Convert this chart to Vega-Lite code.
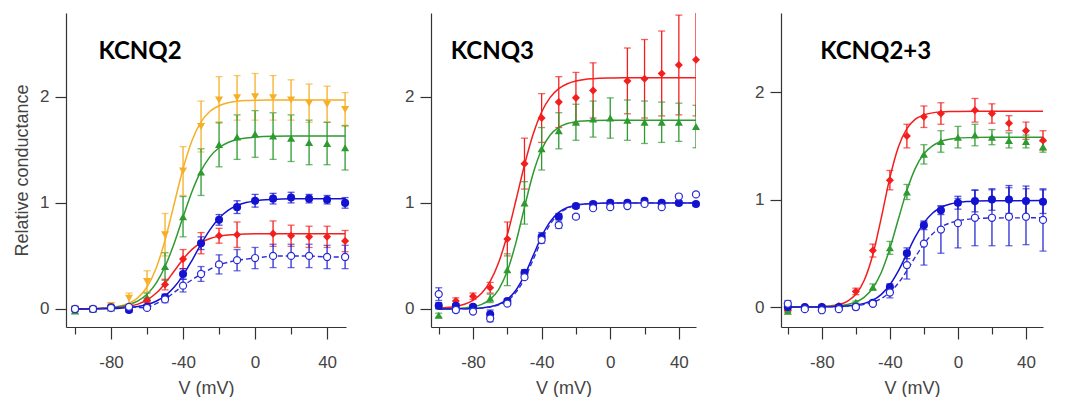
{
  "$schema": "https://vega.github.io/schema/vega-lite/v6.json",
  "padding": {"left": 13, "top": 13, "right": 5, "bottom": 0},
  "background": "white",
  "config": {
    "view": {"stroke": null},
    "axis": {"grid": false, "domainColor": "#333333", "tickColor": "#333333", "labelColor": "#444444", "titleColor": "#444444", "labelFont": "Liberation Sans", "titleFont": "Liberation Sans", "labelFontSize": 17, "titleFontSize": 18, "titleFontWeight": "normal", "domainWidth": 1.2, "tickWidth": 1.2},
    "concat": {"spacing": 85}
  },
  "bounds": "flush",
  "datasets": {
    "pts1": [
      {"s":"orange","v":-100,"g":0,"e":0.02},{"s":"orange","v":-90,"g":0,"e":0.02},{"s":"orange","v":-80,"g":0.03,"e":0.03},{"s":"orange","v":-70,"g":0.1,"e":0.05},{"s":"orange","v":-60,"g":0.26,"e":0.1},{"s":"orange","v":-50,"g":0.7,"e":0.2},{"s":"orange","v":-40,"g":1.3,"e":0.23},{"s":"orange","v":-30,"g":1.72,"e":0.24},{"s":"orange","v":-20,"g":1.97,"e":0.22},{"s":"orange","v":-10,"g":1.99,"e":0.21},{"s":"orange","v":0,"g":2.0,"e":0.22},{"s":"orange","v":10,"g":1.99,"e":0.21},{"s":"orange","v":20,"g":1.97,"e":0.19},{"s":"orange","v":30,"g":1.94,"e":0.18},{"s":"orange","v":40,"g":1.93,"e":0.17},{"s":"orange","v":50,"g":1.88,"e":0.16},
      {"s":"green","v":-100,"g":-0.02,"e":0.02},{"s":"green","v":-90,"g":0,"e":0.02},{"s":"green","v":-80,"g":0.01,"e":0.02},{"s":"green","v":-70,"g":0.02,"e":0.02},{"s":"green","v":-60,"g":0.11,"e":0.04},{"s":"green","v":-50,"g":0.4,"e":0.13},{"s":"green","v":-40,"g":0.87,"e":0.19},{"s":"green","v":-30,"g":1.29,"e":0.22},{"s":"green","v":-20,"g":1.55,"e":0.21},{"s":"green","v":-10,"g":1.62,"e":0.21},{"s":"green","v":0,"g":1.65,"e":0.22},{"s":"green","v":10,"g":1.63,"e":0.22},{"s":"green","v":20,"g":1.61,"e":0.22},{"s":"green","v":30,"g":1.57,"e":0.21},{"s":"green","v":40,"g":1.56,"e":0.2},{"s":"green","v":50,"g":1.52,"e":0.21},
      {"s":"red","v":-100,"g":0,"e":0.01},{"s":"red","v":-90,"g":0,"e":0.01},{"s":"red","v":-80,"g":0.005,"e":0.01},{"s":"red","v":-70,"g":0.005,"e":0.01},{"s":"red","v":-60,"g":0.08,"e":0.02},{"s":"red","v":-50,"g":0.23,"e":0.05},{"s":"red","v":-40,"g":0.47,"e":0.09},{"s":"red","v":-30,"g":0.62,"e":0.1},{"s":"red","v":-20,"g":0.69,"e":0.07},{"s":"red","v":-10,"g":0.7,"e":0.12},{"s":"red","v":10,"g":0.71,"e":0.12},{"s":"red","v":20,"g":0.69,"e":0.1},{"s":"red","v":30,"g":0.68,"e":0.1},{"s":"red","v":40,"g":0.68,"e":0.1},{"s":"red","v":50,"g":0.64,"e":0.1},
      {"s":"open","v":-100,"g":0,"e":0.01},{"s":"open","v":-90,"g":0,"e":0.01},{"s":"open","v":-80,"g":0.01,"e":0.01},{"s":"open","v":-70,"g":0.02,"e":0.01},{"s":"open","v":-60,"g":0.01,"e":0.01},{"s":"open","v":-50,"g":0.09,"e":0.03},{"s":"open","v":-40,"g":0.22,"e":0.06},{"s":"open","v":-30,"g":0.33,"e":0.07},{"s":"open","v":-20,"g":0.42,"e":0.09},{"s":"open","v":-10,"g":0.46,"e":0.1},{"s":"open","v":0,"g":0.48,"e":0.1},{"s":"open","v":10,"g":0.5,"e":0.11},{"s":"open","v":20,"g":0.5,"e":0.11},{"s":"open","v":30,"g":0.5,"e":0.11},{"s":"open","v":40,"g":0.49,"e":0.11},{"s":"open","v":50,"g":0.49,"e":0.11},
      {"s":"blue","v":-100,"g":0,"e":0.02},{"s":"blue","v":-90,"g":0,"e":0.02},{"s":"blue","v":-80,"g":0.015,"e":0.02},{"s":"blue","v":-70,"g":-0.01,"e":0.02},{"s":"blue","v":-60,"g":0.02,"e":0.02},{"s":"blue","v":-50,"g":0.11,"e":0.03},{"s":"blue","v":-40,"g":0.33,"e":0.05},{"s":"blue","v":-30,"g":0.62,"e":0.06},{"s":"blue","v":-20,"g":0.84,"e":0.05},{"s":"blue","v":-10,"g":0.96,"e":0.06},{"s":"blue","v":0,"g":1.02,"e":0.06},{"s":"blue","v":10,"g":1.04,"e":0.05},{"s":"blue","v":20,"g":1.05,"e":0.05},{"s":"blue","v":30,"g":1.04,"e":0.04},{"s":"blue","v":40,"g":1.03,"e":0.04},{"s":"blue","v":50,"g":1.0,"e":0.05}
    ],
    "fit1": [
      {"s":"orange","v":-100,"g":0},{"s":"orange","v":-90,"g":0.003},{"s":"orange","v":-85,"g":0.0065},{"s":"orange","v":-80,"g":0.013},{"s":"orange","v":-75,"g":0.027},{"s":"orange","v":-70,"g":0.054},{"s":"orange","v":-65,"g":0.107},{"s":"orange","v":-60,"g":0.207},{"s":"orange","v":-55,"g":0.381},{"s":"orange","v":-50,"g":0.648},{"s":"orange","v":-45,"g":0.985},{"s":"orange","v":-40,"g":1.322},{"s":"orange","v":-35,"g":1.589},{"s":"orange","v":-30,"g":1.763},{"s":"orange","v":-25,"g":1.864},{"s":"orange","v":-20,"g":1.916},{"s":"orange","v":-15,"g":1.943},{"s":"orange","v":-10,"g":1.957},{"s":"orange","v":-5,"g":1.964},{"s":"orange","v":0,"g":1.967},{"s":"orange","v":10,"g":1.969},{"s":"orange","v":20,"g":1.97},{"s":"orange","v":50,"g":1.97},
      {"s":"green","v":-100,"g":0.001},{"s":"green","v":-90,"g":0.0036},{"s":"green","v":-85,"g":0.0066},{"s":"green","v":-80,"g":0.012},{"s":"green","v":-75,"g":0.023},{"s":"green","v":-70,"g":0.042},{"s":"green","v":-65,"g":0.077},{"s":"green","v":-60,"g":0.139},{"s":"green","v":-55,"g":0.241},{"s":"green","v":-50,"g":0.4},{"s":"green","v":-45,"g":0.615},{"s":"green","v":-40,"g":0.866},{"s":"green","v":-35,"g":1.107},{"s":"green","v":-30,"g":1.301},{"s":"green","v":-25,"g":1.436},{"s":"green","v":-20,"g":1.52},{"s":"green","v":-15,"g":1.569},{"s":"green","v":-10,"g":1.597},{"s":"green","v":-5,"g":1.612},{"s":"green","v":0,"g":1.62},{"s":"green","v":10,"g":1.628},{"s":"green","v":20,"g":1.63},{"s":"green","v":50,"g":1.63},
      {"s":"red","v":-100,"g":0},{"s":"red","v":-90,"g":0.002},{"s":"red","v":-85,"g":0.004},{"s":"red","v":-80,"g":0.007},{"s":"red","v":-75,"g":0.013},{"s":"red","v":-70,"g":0.025},{"s":"red","v":-65,"g":0.046},{"s":"red","v":-60,"g":0.085},{"s":"red","v":-55,"g":0.148},{"s":"red","v":-50,"g":0.241},{"s":"red","v":-45,"g":0.355},{"s":"red","v":-40,"g":0.469},{"s":"red","v":-35,"g":0.562},{"s":"red","v":-30,"g":0.626},{"s":"red","v":-25,"g":0.664},{"s":"red","v":-20,"g":0.685},{"s":"red","v":-15,"g":0.697},{"s":"red","v":-10,"g":0.703},{"s":"red","v":-5,"g":0.706},{"s":"red","v":0,"g":0.708},{"s":"red","v":10,"g":0.709},{"s":"red","v":20,"g":0.71},{"s":"red","v":50,"g":0.71},
      {"s":"blue","v":-100,"g":0},{"s":"blue","v":-90,"g":0.001},{"s":"blue","v":-85,"g":0.002},{"s":"blue","v":-80,"g":0.004},{"s":"blue","v":-75,"g":0.007},{"s":"blue","v":-70,"g":0.013},{"s":"blue","v":-65,"g":0.024},{"s":"blue","v":-60,"g":0.042},{"s":"blue","v":-55,"g":0.073},{"s":"blue","v":-50,"g":0.124},{"s":"blue","v":-45,"g":0.204},{"s":"blue","v":-40,"g":0.317},{"s":"blue","v":-35,"g":0.459},{"s":"blue","v":-30,"g":0.611},{"s":"blue","v":-25,"g":0.748},{"s":"blue","v":-20,"g":0.855},{"s":"blue","v":-15,"g":0.929},{"s":"blue","v":-10,"g":0.975},{"s":"blue","v":-5,"g":1.003},{"s":"blue","v":0,"g":1.019},{"s":"blue","v":10,"g":1.033},{"s":"blue","v":20,"g":1.038},{"s":"blue","v":50,"g":1.04},
      {"s":"open","v":-100,"g":0},{"s":"open","v":-90,"g":0},{"s":"open","v":-80,"g":0.01},{"s":"open","v":-70,"g":0.02},{"s":"open","v":-60,"g":0.01},{"s":"open","v":-50,"g":0.09},{"s":"open","v":-40,"g":0.22},{"s":"open","v":-30,"g":0.33},{"s":"open","v":-20,"g":0.42},{"s":"open","v":-10,"g":0.46},{"s":"open","v":0,"g":0.48},{"s":"open","v":10,"g":0.5},{"s":"open","v":20,"g":0.5},{"s":"open","v":30,"g":0.5},{"s":"open","v":40,"g":0.49},{"s":"open","v":50,"g":0.49}
    ],
    "pts2": [
      {"s":"red","v":-100,"g":0.03,"e":0.02},{"s":"red","v":-90,"g":0.075,"e":0.03},{"s":"red","v":-80,"g":0.12,"e":0.03},{"s":"red","v":-70,"g":0.2,"e":0.05},{"s":"red","v":-60,"g":0.66,"e":0.16},{"s":"red","v":-50,"g":1.37,"e":0.24},{"s":"red","v":-40,"g":1.8,"e":0.23},{"s":"red","v":-30,"g":1.95,"e":0.24},{"s":"red","v":-20,"g":1.99,"e":0.24},{"s":"red","v":-10,"g":2.06,"e":0.26},{"s":"red","v":10,"g":2.15,"e":0.31},{"s":"red","v":20,"g":2.17,"e":0.37},{"s":"red","v":30,"g":2.22,"e":0.4},{"s":"red","v":40,"g":2.3,"e":0.47},{"s":"red","v":50,"g":2.35,"e":0.53},
      {"s":"green","v":-100,"g":-0.06,"e":0.02},{"s":"green","v":-90,"g":0,"e":0.02},{"s":"green","v":-80,"g":0.01,"e":0.02},{"s":"green","v":-70,"g":0.1,"e":0.04},{"s":"green","v":-60,"g":0.37,"e":0.15},{"s":"green","v":-50,"g":1.0,"e":0.2},{"s":"green","v":-40,"g":1.51,"e":0.2},{"s":"green","v":-30,"g":1.68,"e":0.17},{"s":"green","v":-20,"g":1.76,"e":0.17},{"s":"green","v":-10,"g":1.79,"e":0.17},{"s":"green","v":0,"g":1.8,"e":0.19},{"s":"green","v":10,"g":1.78,"e":0.19},{"s":"green","v":20,"g":1.76,"e":0.2},{"s":"green","v":30,"g":1.76,"e":0.19},{"s":"green","v":40,"g":1.76,"e":0.18},{"s":"green","v":50,"g":1.72,"e":0.2},
      {"s":"open","v":-100,"g":0.14,"e":0.06},{"s":"open","v":-90,"g":-0.01,"e":0},{"s":"open","v":-80,"g":-0.025,"e":0},{"s":"open","v":-70,"g":-0.09,"e":0.03},{"s":"open","v":-60,"g":0.05,"e":0},{"s":"open","v":-50,"g":0.3,"e":0.02},{"s":"open","v":-40,"g":0.65,"e":0.03},{"s":"open","v":-30,"g":0.79,"e":0.03},{"s":"open","v":-20,"g":0.87,"e":0.02},{"s":"open","v":-10,"g":0.95,"e":0},{"s":"open","v":0,"g":0.96,"e":0},{"s":"open","v":10,"g":0.97,"e":0},{"s":"open","v":20,"g":0.99,"e":0},{"s":"open","v":30,"g":0.96,"e":0},{"s":"open","v":40,"g":1.06,"e":0},{"s":"open","v":50,"g":1.08,"e":0},
      {"s":"blue","v":-100,"g":0.03,"e":0.03},{"s":"blue","v":-90,"g":0.03,"e":0.02},{"s":"blue","v":-80,"g":0.02,"e":0.02},{"s":"blue","v":-70,"g":-0.05,"e":0.04},{"s":"blue","v":-60,"g":0.075,"e":0.02},{"s":"blue","v":-50,"g":0.34,"e":0.03},{"s":"blue","v":-40,"g":0.68,"e":0.04},{"s":"blue","v":-30,"g":0.87,"e":0.03},{"s":"blue","v":-20,"g":0.97,"e":0.02},{"s":"blue","v":-10,"g":0.99,"e":0.02},{"s":"blue","v":0,"g":1.0,"e":0.02},{"s":"blue","v":10,"g":1.0,"e":0.02},{"s":"blue","v":20,"g":1.02,"e":0.02},{"s":"blue","v":30,"g":1.0,"e":0.02},{"s":"blue","v":40,"g":1.0,"e":0.02},{"s":"blue","v":50,"g":0.99,"e":0.02}
    ],
    "fit2": [
      {"s":"red","v":-100,"g":0.007},{"s":"red","v":-95,"g":0.013},{"s":"red","v":-90,"g":0.024},{"s":"red","v":-85,"g":0.044},{"s":"red","v":-80,"g":0.081},{"s":"red","v":-75,"g":0.147},{"s":"red","v":-70,"g":0.26},{"s":"red","v":-65,"g":0.44},{"s":"red","v":-60,"g":0.699},{"s":"red","v":-55,"g":1.022},{"s":"red","v":-50,"g":1.357},{"s":"red","v":-45,"g":1.645},{"s":"red","v":-40,"g":1.857},{"s":"red","v":-35,"g":1.995},{"s":"red","v":-30,"g":2.077},{"s":"red","v":-25,"g":2.123},{"s":"red","v":-20,"g":2.149},{"s":"red","v":-15,"g":2.164},{"s":"red","v":-10,"g":2.171},{"s":"red","v":0,"g":2.177},{"s":"red","v":10,"g":2.179},{"s":"red","v":20,"g":2.18},{"s":"red","v":50,"g":2.18},
      {"s":"green","v":-100,"g":0.001},{"s":"green","v":-90,"g":0.004},{"s":"green","v":-85,"g":0.009},{"s":"green","v":-80,"g":0.02},{"s":"green","v":-75,"g":0.043},{"s":"green","v":-70,"g":0.091},{"s":"green","v":-65,"g":0.185},{"s":"green","v":-60,"g":0.357},{"s":"green","v":-55,"g":0.625},{"s":"green","v":-50,"g":0.958},{"s":"green","v":-45,"g":1.274},{"s":"green","v":-40,"g":1.503},{"s":"green","v":-35,"g":1.64},{"s":"green","v":-30,"g":1.712},{"s":"green","v":-25,"g":1.748},{"s":"green","v":-20,"g":1.765},{"s":"green","v":-15,"g":1.772},{"s":"green","v":-10,"g":1.776},{"s":"green","v":0,"g":1.779},{"s":"green","v":20,"g":1.78},{"s":"green","v":50,"g":1.78},
      {"s":"blue","v":-100,"g":0},{"s":"blue","v":-90,"g":0.001},{"s":"blue","v":-85,"g":0.002},{"s":"blue","v":-80,"g":0.005},{"s":"blue","v":-75,"g":0.01},{"s":"blue","v":-70,"g":0.021},{"s":"blue","v":-65,"g":0.044},{"s":"blue","v":-60,"g":0.09},{"s":"blue","v":-55,"g":0.177},{"s":"blue","v":-50,"g":0.316},{"s":"blue","v":-45,"g":0.5},{"s":"blue","v":-40,"g":0.684},{"s":"blue","v":-35,"g":0.823},{"s":"blue","v":-30,"g":0.91},{"s":"blue","v":-25,"g":0.956},{"s":"blue","v":-20,"g":0.979},{"s":"blue","v":-15,"g":0.99},{"s":"blue","v":-10,"g":0.995},{"s":"blue","v":0,"g":0.999},{"s":"blue","v":20,"g":1.0},{"s":"blue","v":50,"g":1.0},
      {"s":"open","v":-100,"g":0},{"s":"open","v":-90,"g":0.001},{"s":"open","v":-85,"g":0.002},{"s":"open","v":-80,"g":0.004},{"s":"open","v":-75,"g":0.008},{"s":"open","v":-70,"g":0.018},{"s":"open","v":-65,"g":0.038},{"s":"open","v":-60,"g":0.079},{"s":"open","v":-55,"g":0.156},{"s":"open","v":-50,"g":0.284},{"s":"open","v":-45,"g":0.462},{"s":"open","v":-40,"g":0.649},{"s":"open","v":-35,"g":0.8},{"s":"open","v":-30,"g":0.896},{"s":"open","v":-25,"g":0.949},{"s":"open","v":-20,"g":0.976},{"s":"open","v":-15,"g":0.989},{"s":"open","v":-10,"g":0.995},{"s":"open","v":0,"g":0.998},{"s":"open","v":20,"g":1.0},{"s":"open","v":50,"g":1.0}
    ],
    "pts3": [
      {"s":"red","v":-100,"g":-0.03,"e":0.01},{"s":"red","v":-90,"g":0,"e":0.01},{"s":"red","v":-80,"g":0.005,"e":0.01},{"s":"red","v":-70,"g":0.01,"e":0.01},{"s":"red","v":-60,"g":0.145,"e":0.03},{"s":"red","v":-50,"g":0.525,"e":0.06},{"s":"red","v":-40,"g":1.18,"e":0.09},{"s":"red","v":-30,"g":1.59,"e":0.11},{"s":"red","v":-20,"g":1.77,"e":0.1},{"s":"red","v":-10,"g":1.8,"e":0.1},{"s":"red","v":10,"g":1.83,"e":0.11},{"s":"red","v":20,"g":1.8,"e":0.09},{"s":"red","v":30,"g":1.71,"e":0.07},{"s":"red","v":40,"g":1.64,"e":0.08},{"s":"red","v":50,"g":1.55,"e":0.09},
      {"s":"green","v":-100,"g":-0.04,"e":0.01},{"s":"green","v":-90,"g":0,"e":0.01},{"s":"green","v":-80,"g":0.005,"e":0.01},{"s":"green","v":-70,"g":0.01,"e":0.01},{"s":"green","v":-60,"g":0.045,"e":0.01},{"s":"green","v":-50,"g":0.185,"e":0.03},{"s":"green","v":-40,"g":0.55,"e":0.06},{"s":"green","v":-30,"g":1.07,"e":0.07},{"s":"green","v":-20,"g":1.42,"e":0.09},{"s":"green","v":-10,"g":1.54,"e":0.1},{"s":"green","v":0,"g":1.58,"e":0.1},{"s":"green","v":10,"g":1.6,"e":0.1},{"s":"green","v":20,"g":1.58,"e":0.07},{"s":"green","v":30,"g":1.55,"e":0.07},{"s":"green","v":40,"g":1.54,"e":0.06},{"s":"green","v":50,"g":1.49,"e":0.05},
      {"s":"open","v":-100,"g":0.03,"e":0.03},{"s":"open","v":-90,"g":-0.02,"e":0.01},{"s":"open","v":-80,"g":-0.03,"e":0.01},{"s":"open","v":-70,"g":-0.02,"e":0.01},{"s":"open","v":-60,"g":0,"e":0.01},{"s":"open","v":-50,"g":0.03,"e":0.01},{"s":"open","v":-40,"g":0.135,"e":0.05},{"s":"open","v":-30,"g":0.39,"e":0.13},{"s":"open","v":-20,"g":0.59,"e":0.2},{"s":"open","v":-10,"g":0.72,"e":0.22},{"s":"open","v":0,"g":0.78,"e":0.23},{"s":"open","v":10,"g":0.83,"e":0.26},{"s":"open","v":20,"g":0.83,"e":0.26},{"s":"open","v":30,"g":0.84,"e":0.27},{"s":"open","v":40,"g":0.84,"e":0.26},{"s":"open","v":50,"g":0.81,"e":0.29},
      {"s":"blue","v":-100,"g":0,"e":0.01},{"s":"blue","v":-90,"g":0,"e":0.01},{"s":"blue","v":-80,"g":0,"e":0.01},{"s":"blue","v":-70,"g":0,"e":0.01},{"s":"blue","v":-60,"g":0,"e":0.01},{"s":"blue","v":-50,"g":0.04,"e":0.02},{"s":"blue","v":-40,"g":0.185,"e":0.03},{"s":"blue","v":-30,"g":0.5,"e":0.05},{"s":"blue","v":-20,"g":0.76,"e":0.04},{"s":"blue","v":-10,"g":0.9,"e":0.04},{"s":"blue","v":0,"g":0.97,"e":0.06},{"s":"blue","v":10,"g":0.985,"e":0.1},{"s":"blue","v":20,"g":1.0,"e":0.1},{"s":"blue","v":30,"g":1.0,"e":0.13},{"s":"blue","v":40,"g":0.985,"e":0.14},{"s":"blue","v":50,"g":0.98,"e":0.11}
    ],
    "fit3": [
      {"s":"red","v":-100,"g":0},{"s":"red","v":-90,"g":0.001},{"s":"red","v":-85,"g":0.002},{"s":"red","v":-80,"g":0.0045},{"s":"red","v":-75,"g":0.01},{"s":"red","v":-70,"g":0.023},{"s":"red","v":-65,"g":0.053},{"s":"red","v":-60,"g":0.118},{"s":"red","v":-55,"g":0.251},{"s":"red","v":-50,"g":0.489},{"s":"red","v":-45,"g":0.834},{"s":"red","v":-40,"g":1.203},{"s":"red","v":-35,"g":1.488},{"s":"red","v":-30,"g":1.659},{"s":"red","v":-25,"g":1.747},{"s":"red","v":-20,"g":1.787},{"s":"red","v":-15,"g":1.806},{"s":"red","v":-10,"g":1.814},{"s":"red","v":-5,"g":1.818},{"s":"red","v":0,"g":1.819},{"s":"red","v":10,"g":1.82},{"s":"red","v":50,"g":1.82},
      {"s":"green","v":-100,"g":0},{"s":"green","v":-90,"g":0.0007},{"s":"green","v":-85,"g":0.0013},{"s":"green","v":-80,"g":0.003},{"s":"green","v":-75,"g":0.006},{"s":"green","v":-70,"g":0.011},{"s":"green","v":-65,"g":0.023},{"s":"green","v":-60,"g":0.046},{"s":"green","v":-55,"g":0.092},{"s":"green","v":-50,"g":0.177},{"s":"green","v":-45,"g":0.324},{"s":"green","v":-40,"g":0.545},{"s":"green","v":-35,"g":0.818},{"s":"green","v":-30,"g":1.085},{"s":"green","v":-25,"g":1.292},{"s":"green","v":-20,"g":1.425},{"s":"green","v":-15,"g":1.499},{"s":"green","v":-10,"g":1.54},{"s":"green","v":-5,"g":1.56},{"s":"green","v":0,"g":1.57},{"s":"green","v":10,"g":1.578},{"s":"green","v":20,"g":1.58},{"s":"green","v":50,"g":1.58},
      {"s":"blue","v":-100,"g":0},{"s":"blue","v":-90,"g":0},{"s":"blue","v":-80,"g":0.001},{"s":"blue","v":-75,"g":0.0025},{"s":"blue","v":-70,"g":0.005},{"s":"blue","v":-65,"g":0.009},{"s":"blue","v":-60,"g":0.018},{"s":"blue","v":-55,"g":0.034},{"s":"blue","v":-50,"g":0.064},{"s":"blue","v":-45,"g":0.118},{"s":"blue","v":-40,"g":0.207},{"s":"blue","v":-35,"g":0.336},{"s":"blue","v":-30,"g":0.495},{"s":"blue","v":-25,"g":0.654},{"s":"blue","v":-20,"g":0.783},{"s":"blue","v":-15,"g":0.872},{"s":"blue","v":-10,"g":0.926},{"s":"blue","v":-5,"g":0.956},{"s":"blue","v":0,"g":0.972},{"s":"blue","v":5,"g":0.981},{"s":"blue","v":10,"g":0.985},{"s":"blue","v":20,"g":0.989},{"s":"blue","v":50,"g":0.99},
      {"s":"open","v":-100,"g":0},{"s":"open","v":-90,"g":0},{"s":"open","v":-80,"g":0.001},{"s":"open","v":-75,"g":0.002},{"s":"open","v":-70,"g":0.004},{"s":"open","v":-65,"g":0.007},{"s":"open","v":-60,"g":0.013},{"s":"open","v":-55,"g":0.024},{"s":"open","v":-50,"g":0.044},{"s":"open","v":-45,"g":0.079},{"s":"open","v":-40,"g":0.137},{"s":"open","v":-35,"g":0.223},{"s":"open","v":-30,"g":0.338},{"s":"open","v":-25,"g":0.467},{"s":"open","v":-20,"g":0.586},{"s":"open","v":-15,"g":0.679},{"s":"open","v":-10,"g":0.742},{"s":"open","v":-5,"g":0.78},{"s":"open","v":0,"g":0.803},{"s":"open","v":5,"g":0.815},{"s":"open","v":10,"g":0.822},{"s":"open","v":20,"g":0.828},{"s":"open","v":50,"g":0.83}
    ],
    "lab1": [{"label": "KCNQ2"}],
    "lab2": [{"label": "KCNQ3"}],
    "lab3": [{"label": "KCNQ2+3"}]
  },
  "hconcat": [
    {
      "width": 280, "height": 314,
      "layer": [
        {"data": {"name": "fit1"}, "transform": [{"filter": "datum.s !== 'open'"}], "mark": {"type": "line", "interpolate": "monotone", "strokeWidth": 1.5},
         "encoding": {
          "x": {"field": "v", "type": "quantitative", "scale": {"domain": [-105, 50.5], "nice": false, "zero": false}, "axis": {"title": "V (mV)", "values": [-100,-80,-60,-40,-20,0,20,40], "labelExpr": "datum.value % 40 === 0 ? toString(datum.value) : ''", "tickSize": {"condition": {"test": "datum.value % 40 === 0", "value": 12}, "value": 7}, "labelPadding": 15, "titlePadding": 9}},
          "y": {"field": "g", "type": "quantitative", "scale": {"domain": [-0.17, 2.79], "nice": false, "zero": false}, "axis": {"title": "Relative conductance", "values": [0,1,2], "labelExpr": "toString(datum.value)", "tickSize": 11, "labelPadding": 6, "titlePadding": 8}},
          "color": {"field": "s", "type": "nominal", "scale": {"domain": ["orange","green","red","blue","open"], "range": ["#F6AF26","#2E9A30","#F41E1E","#1212D0","#2B2BD4"]}, "legend": null}}},
        {"data": {"name": "fit1"}, "transform": [{"filter": "datum.s === 'open'"}], "mark": {"type": "line", "strokeWidth": 1.4, "strokeDash": [5, 3], "color": "#2B2BD4"},
         "encoding": {
          "x": {"field": "v", "type": "quantitative", "scale": {"domain": [-105, 50.5], "nice": false, "zero": false}, "axis": {"title": "V (mV)", "values": [-100,-80,-60,-40,-20,0,20,40], "labelExpr": "datum.value % 40 === 0 ? toString(datum.value) : ''", "tickSize": {"condition": {"test": "datum.value % 40 === 0", "value": 12}, "value": 7}, "labelPadding": 15, "titlePadding": 9}},
          "y": {"field": "g", "type": "quantitative", "scale": {"domain": [-0.17, 2.79], "nice": false, "zero": false}, "axis": {"title": "Relative conductance", "values": [0,1,2], "labelExpr": "toString(datum.value)", "tickSize": 11, "labelPadding": 6, "titlePadding": 8}}}},
        {"data": {"name": "pts1"}, "mark": {"type": "errorbar", "ticks": true, "thickness": 1.3, "size": 7},
         "encoding": {
          "x": {"field": "v", "type": "quantitative", "scale": {"domain": [-105, 50.5], "nice": false, "zero": false}, "axis": {"title": "V (mV)", "values": [-100,-80,-60,-40,-20,0,20,40], "labelExpr": "datum.value % 40 === 0 ? toString(datum.value) : ''", "tickSize": {"condition": {"test": "datum.value % 40 === 0", "value": 12}, "value": 7}, "labelPadding": 15, "titlePadding": 9}},
          "y": {"field": "g", "type": "quantitative", "scale": {"domain": [-0.17, 2.79], "nice": false, "zero": false}, "axis": {"title": "Relative conductance", "values": [0,1,2], "labelExpr": "toString(datum.value)", "tickSize": 11, "labelPadding": 6, "titlePadding": 8}},
          "yError": {"field": "e"}, "color": {"field": "s", "type": "nominal", "legend": null}}},
        {"data": {"name": "pts1"}, "transform": [{"filter": "datum.s !== 'open'"}], "mark": {"type": "point", "filled": true, "size": 65, "opacity": 1},
         "encoding": {
          "x": {"field": "v", "type": "quantitative", "scale": {"domain": [-105, 50.5], "nice": false, "zero": false}, "axis": {"title": "V (mV)", "values": [-100,-80,-60,-40,-20,0,20,40], "labelExpr": "datum.value % 40 === 0 ? toString(datum.value) : ''", "tickSize": {"condition": {"test": "datum.value % 40 === 0", "value": 12}, "value": 7}, "labelPadding": 15, "titlePadding": 9}},
          "y": {"field": "g", "type": "quantitative", "scale": {"domain": [-0.17, 2.79], "nice": false, "zero": false}, "axis": {"title": "Relative conductance", "values": [0,1,2], "labelExpr": "toString(datum.value)", "tickSize": 11, "labelPadding": 6, "titlePadding": 8}},
          "color": {"field": "s", "type": "nominal", "legend": null}, "shape": {"field": "s", "type": "nominal", "scale": {"domain": ["orange","green","red","blue"], "range": ["triangle-down","triangle-up","diamond","circle"]}, "legend": null}}},
        {"data": {"name": "pts1"}, "transform": [{"filter": "datum.s === 'open'"}], "mark": {"type": "point", "shape": "circle", "size": 50, "fill": "white", "stroke": "#2B2BD4", "strokeWidth": 1.2, "filled": true, "opacity": 1},
         "encoding": {
          "x": {"field": "v", "type": "quantitative", "scale": {"domain": [-105, 50.5], "nice": false, "zero": false}, "axis": {"title": "V (mV)", "values": [-100,-80,-60,-40,-20,0,20,40], "labelExpr": "datum.value % 40 === 0 ? toString(datum.value) : ''", "tickSize": {"condition": {"test": "datum.value % 40 === 0", "value": 12}, "value": 7}, "labelPadding": 15, "titlePadding": 9}},
          "y": {"field": "g", "type": "quantitative", "scale": {"domain": [-0.17, 2.79], "nice": false, "zero": false}, "axis": {"title": "Relative conductance", "values": [0,1,2], "labelExpr": "toString(datum.value)", "tickSize": 11, "labelPadding": 6, "titlePadding": 8}}}},
        {"data": {"name": "lab1"}, "mark": {"type": "text", "font": "Lato", "fontWeight": "bold", "fontSize": 24, "align": "left", "baseline": "middle", "color": "black"},
         "encoding": {
          "x": {"datum": -87, "type": "quantitative", "scale": {"domain": [-105, 50.5], "nice": false, "zero": false}, "axis": {"title": "V (mV)", "values": [-100,-80,-60,-40,-20,0,20,40], "labelExpr": "datum.value % 40 === 0 ? toString(datum.value) : ''", "tickSize": {"condition": {"test": "datum.value % 40 === 0", "value": 12}, "value": 7}, "labelPadding": 15, "titlePadding": 9}},
          "y": {"datum": 2.42, "type": "quantitative", "scale": {"domain": [-0.17, 2.79], "nice": false, "zero": false}, "axis": {"title": "Relative conductance", "values": [0,1,2], "labelExpr": "toString(datum.value)", "tickSize": 11, "labelPadding": 6, "titlePadding": 8}},
          "text": {"field": "label", "type": "nominal"}}}
      ]
    },
    {
      "width": 265, "height": 314,
      "layer": [
        {"data": {"name": "fit2"}, "transform": [{"filter": "datum.s !== 'open'"}], "mark": {"type": "line", "interpolate": "monotone", "strokeWidth": 1.5},
         "encoding": {
          "x": {"field": "v", "type": "quantitative", "scale": {"domain": [-104.5, 50], "nice": false, "zero": false}, "axis": {"title": "V (mV)", "values": [-100,-80,-60,-40,-20,0,20,40], "labelExpr": "datum.value % 40 === 0 ? toString(datum.value) : ''", "tickSize": {"condition": {"test": "datum.value % 40 === 0", "value": 12}, "value": 7}, "labelPadding": 15, "titlePadding": 9}},
          "y": {"field": "g", "type": "quantitative", "scale": {"domain": [-0.17, 2.79], "nice": false, "zero": false}, "axis": {"title": null, "values": [0,1,2], "labelExpr": "toString(datum.value)", "tickSize": 11, "labelPadding": 6}},
          "color": {"field": "s", "type": "nominal", "legend": null}}},
        {"data": {"name": "fit2"}, "transform": [{"filter": "datum.s === 'open'"}], "mark": {"type": "line", "interpolate": "monotone", "strokeWidth": 1.4, "strokeDash": [5, 3], "color": "#2B2BD4"},
         "encoding": {
          "x": {"field": "v", "type": "quantitative", "scale": {"domain": [-104.5, 50], "nice": false, "zero": false}, "axis": {"title": "V (mV)", "values": [-100,-80,-60,-40,-20,0,20,40], "labelExpr": "datum.value % 40 === 0 ? toString(datum.value) : ''", "tickSize": {"condition": {"test": "datum.value % 40 === 0", "value": 12}, "value": 7}, "labelPadding": 15, "titlePadding": 9}},
          "y": {"field": "g", "type": "quantitative", "scale": {"domain": [-0.17, 2.79], "nice": false, "zero": false}, "axis": {"title": null, "values": [0,1,2], "labelExpr": "toString(datum.value)", "tickSize": 11, "labelPadding": 6}}}},
        {"data": {"name": "pts2"}, "mark": {"type": "errorbar", "ticks": true, "thickness": 1.3, "size": 7, "clip": true},
         "encoding": {
          "x": {"field": "v", "type": "quantitative", "scale": {"domain": [-104.5, 50], "nice": false, "zero": false}, "axis": {"title": "V (mV)", "values": [-100,-80,-60,-40,-20,0,20,40], "labelExpr": "datum.value % 40 === 0 ? toString(datum.value) : ''", "tickSize": {"condition": {"test": "datum.value % 40 === 0", "value": 12}, "value": 7}, "labelPadding": 15, "titlePadding": 9}},
          "y": {"field": "g", "type": "quantitative", "scale": {"domain": [-0.17, 2.79], "nice": false, "zero": false}, "axis": {"title": null, "values": [0,1,2], "labelExpr": "toString(datum.value)", "tickSize": 11, "labelPadding": 6}},
          "yError": {"field": "e"}, "color": {"field": "s", "type": "nominal", "legend": null}}},
        {"data": {"name": "pts2"}, "transform": [{"filter": "datum.s !== 'open'"}], "mark": {"type": "point", "filled": true, "size": 65, "opacity": 1},
         "encoding": {
          "x": {"field": "v", "type": "quantitative", "scale": {"domain": [-104.5, 50], "nice": false, "zero": false}, "axis": {"title": "V (mV)", "values": [-100,-80,-60,-40,-20,0,20,40], "labelExpr": "datum.value % 40 === 0 ? toString(datum.value) : ''", "tickSize": {"condition": {"test": "datum.value % 40 === 0", "value": 12}, "value": 7}, "labelPadding": 15, "titlePadding": 9}},
          "y": {"field": "g", "type": "quantitative", "scale": {"domain": [-0.17, 2.79], "nice": false, "zero": false}, "axis": {"title": null, "values": [0,1,2], "labelExpr": "toString(datum.value)", "tickSize": 11, "labelPadding": 6}},
          "color": {"field": "s", "type": "nominal", "legend": null}, "shape": {"field": "s", "type": "nominal", "legend": null}}},
        {"data": {"name": "pts2"}, "transform": [{"filter": "datum.s === 'open'"}], "mark": {"type": "point", "shape": "circle", "size": 50, "fill": "white", "stroke": "#2B2BD4", "strokeWidth": 1.2, "filled": true, "opacity": 1},
         "encoding": {
          "x": {"field": "v", "type": "quantitative", "scale": {"domain": [-104.5, 50], "nice": false, "zero": false}, "axis": {"title": "V (mV)", "values": [-100,-80,-60,-40,-20,0,20,40], "labelExpr": "datum.value % 40 === 0 ? toString(datum.value) : ''", "tickSize": {"condition": {"test": "datum.value % 40 === 0", "value": 12}, "value": 7}, "labelPadding": 15, "titlePadding": 9}},
          "y": {"field": "g", "type": "quantitative", "scale": {"domain": [-0.17, 2.79], "nice": false, "zero": false}, "axis": {"title": null, "values": [0,1,2], "labelExpr": "toString(datum.value)", "tickSize": 11, "labelPadding": 6}}}},
        {"data": {"name": "lab2"}, "mark": {"type": "text", "font": "Lato", "fontWeight": "bold", "fontSize": 24, "align": "left", "baseline": "middle", "color": "black"},
         "encoding": {
          "x": {"datum": -93, "type": "quantitative", "scale": {"domain": [-104.5, 50], "nice": false, "zero": false}, "axis": {"title": "V (mV)", "values": [-100,-80,-60,-40,-20,0,20,40], "labelExpr": "datum.value % 40 === 0 ? toString(datum.value) : ''", "tickSize": {"condition": {"test": "datum.value % 40 === 0", "value": 12}, "value": 7}, "labelPadding": 15, "titlePadding": 9}},
          "y": {"datum": 2.42, "type": "quantitative", "scale": {"domain": [-0.17, 2.79], "nice": false, "zero": false}, "axis": {"title": null, "values": [0,1,2], "labelExpr": "toString(datum.value)", "tickSize": 11, "labelPadding": 6}},
          "text": {"field": "label", "type": "nominal"}}}
      ]
    },
    {
      "width": 262, "height": 314,
      "layer": [
        {"data": {"name": "fit3"}, "transform": [{"filter": "datum.s !== 'open'"}], "mark": {"type": "line", "interpolate": "monotone", "strokeWidth": 1.5},
         "encoding": {
          "x": {"field": "v", "type": "quantitative", "scale": {"domain": [-104, 50], "nice": false, "zero": false}, "axis": {"title": "V (mV)", "values": [-100,-80,-60,-40,-20,0,20,40], "labelExpr": "datum.value % 40 === 0 ? toString(datum.value) : ''", "tickSize": {"condition": {"test": "datum.value % 40 === 0", "value": 12}, "value": 7}, "labelPadding": 15, "titlePadding": 9}},
          "y": {"field": "g", "type": "quantitative", "scale": {"domain": [-0.186, 2.735], "nice": false, "zero": false}, "axis": {"title": null, "values": [0,1,2], "labelExpr": "toString(datum.value)", "tickSize": 11, "labelPadding": 6}},
          "color": {"field": "s", "type": "nominal", "legend": null}}},
        {"data": {"name": "fit3"}, "transform": [{"filter": "datum.s === 'open'"}], "mark": {"type": "line", "interpolate": "monotone", "strokeWidth": 1.4, "strokeDash": [5, 3], "color": "#2B2BD4"},
         "encoding": {
          "x": {"field": "v", "type": "quantitative", "scale": {"domain": [-104, 50], "nice": false, "zero": false}, "axis": {"title": "V (mV)", "values": [-100,-80,-60,-40,-20,0,20,40], "labelExpr": "datum.value % 40 === 0 ? toString(datum.value) : ''", "tickSize": {"condition": {"test": "datum.value % 40 === 0", "value": 12}, "value": 7}, "labelPadding": 15, "titlePadding": 9}},
          "y": {"field": "g", "type": "quantitative", "scale": {"domain": [-0.186, 2.735], "nice": false, "zero": false}, "axis": {"title": null, "values": [0,1,2], "labelExpr": "toString(datum.value)", "tickSize": 11, "labelPadding": 6}}}},
        {"data": {"name": "pts3"}, "mark": {"type": "errorbar", "ticks": true, "thickness": 1.3, "size": 7},
         "encoding": {
          "x": {"field": "v", "type": "quantitative", "scale": {"domain": [-104, 50], "nice": false, "zero": false}, "axis": {"title": "V (mV)", "values": [-100,-80,-60,-40,-20,0,20,40], "labelExpr": "datum.value % 40 === 0 ? toString(datum.value) : ''", "tickSize": {"condition": {"test": "datum.value % 40 === 0", "value": 12}, "value": 7}, "labelPadding": 15, "titlePadding": 9}},
          "y": {"field": "g", "type": "quantitative", "scale": {"domain": [-0.186, 2.735], "nice": false, "zero": false}, "axis": {"title": null, "values": [0,1,2], "labelExpr": "toString(datum.value)", "tickSize": 11, "labelPadding": 6}},
          "yError": {"field": "e"}, "color": {"field": "s", "type": "nominal", "legend": null}}},
        {"data": {"name": "pts3"}, "transform": [{"filter": "datum.s !== 'open'"}], "mark": {"type": "point", "filled": true, "size": 65, "opacity": 1},
         "encoding": {
          "x": {"field": "v", "type": "quantitative", "scale": {"domain": [-104, 50], "nice": false, "zero": false}, "axis": {"title": "V (mV)", "values": [-100,-80,-60,-40,-20,0,20,40], "labelExpr": "datum.value % 40 === 0 ? toString(datum.value) : ''", "tickSize": {"condition": {"test": "datum.value % 40 === 0", "value": 12}, "value": 7}, "labelPadding": 15, "titlePadding": 9}},
          "y": {"field": "g", "type": "quantitative", "scale": {"domain": [-0.186, 2.735], "nice": false, "zero": false}, "axis": {"title": null, "values": [0,1,2], "labelExpr": "toString(datum.value)", "tickSize": 11, "labelPadding": 6}},
          "color": {"field": "s", "type": "nominal", "legend": null}, "shape": {"field": "s", "type": "nominal", "legend": null}}},
        {"data": {"name": "pts3"}, "transform": [{"filter": "datum.s === 'open'"}], "mark": {"type": "point", "shape": "circle", "size": 50, "fill": "white", "stroke": "#2B2BD4", "strokeWidth": 1.2, "filled": true, "opacity": 1},
         "encoding": {
          "x": {"field": "v", "type": "quantitative", "scale": {"domain": [-104, 50], "nice": false, "zero": false}, "axis": {"title": "V (mV)", "values": [-100,-80,-60,-40,-20,0,20,40], "labelExpr": "datum.value % 40 === 0 ? toString(datum.value) : ''", "tickSize": {"condition": {"test": "datum.value % 40 === 0", "value": 12}, "value": 7}, "labelPadding": 15, "titlePadding": 9}},
          "y": {"field": "g", "type": "quantitative", "scale": {"domain": [-0.186, 2.735], "nice": false, "zero": false}, "axis": {"title": null, "values": [0,1,2], "labelExpr": "toString(datum.value)", "tickSize": 11, "labelPadding": 6}}}},
        {"data": {"name": "lab3"}, "mark": {"type": "text", "font": "Lato", "fontWeight": "bold", "fontSize": 24, "align": "left", "baseline": "middle", "color": "black"},
         "encoding": {
          "x": {"datum": -81, "type": "quantitative", "scale": {"domain": [-104, 50], "nice": false, "zero": false}, "axis": {"title": "V (mV)", "values": [-100,-80,-60,-40,-20,0,20,40], "labelExpr": "datum.value % 40 === 0 ? toString(datum.value) : ''", "tickSize": {"condition": {"test": "datum.value % 40 === 0", "value": 12}, "value": 7}, "labelPadding": 15, "titlePadding": 9}},
          "y": {"datum": 2.37, "type": "quantitative", "scale": {"domain": [-0.186, 2.735], "nice": false, "zero": false}, "axis": {"title": null, "values": [0,1,2], "labelExpr": "toString(datum.value)", "tickSize": 11, "labelPadding": 6}},
          "text": {"field": "label", "type": "nominal"}}}
      ]
    }
  ]
}
